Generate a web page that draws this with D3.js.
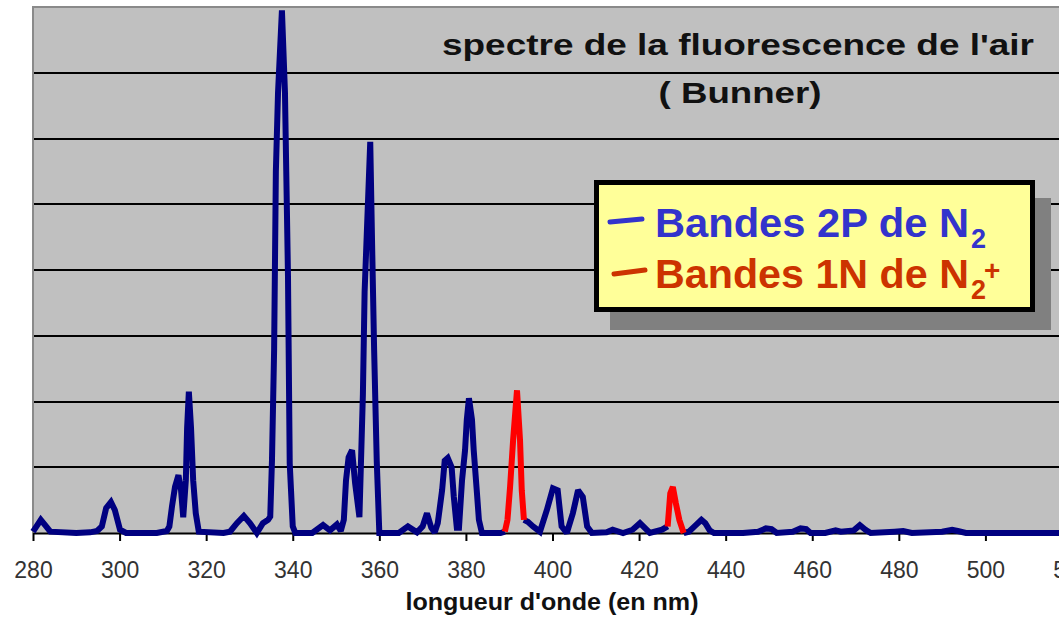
<!DOCTYPE html>
<html>
<head>
<meta charset="utf-8">
<script src="https://cdn.jsdelivr.net/npm/d3@7/dist/d3.min.js"></script>
<style>
  html, body { margin: 0; padding: 0; background: #ffffff; }
  svg { display: block; }
</style>
</head>
<body>
<svg id="chart" width="1059" height="617"></svg>
<script>
// Spectre de fluorescence de l'air (Bunner) — intensité relative vs longueur d'onde (nm)

// Bandes du second système positif de N2 (null = interruption de la courbe)
const bandes2P = [
  [280.0, 0.02], [281.0, 0.12], [281.8, 0.20], [282.8, 0.12], [284.0, 0.02],
  [290.0, 0.00], [293.2, 0.01], [294.8, 0.03], [295.9, 0.10], [296.9, 0.38],
  [298.0, 0.47], [298.9, 0.35], [300.1, 0.05], [301.5, 0.00], [308.6, 0.00],
  [310.9, 0.03], [311.5, 0.10], [312.1, 0.40], [312.8, 0.70], [313.6, 0.88],
  [314.2, 0.65], [314.7, 0.24], [315.3, 0.80], [315.6, 1.60], [316.0, 2.15],
  [316.5, 1.60], [317.0, 0.80], [317.6, 0.30], [318.3, 0.02], [324.0, 0.00],
  [325.5, 0.02], [327.1, 0.15], [328.7, 0.26], [330.1, 0.15], [331.7, 0.00],
  [333.1, 0.15], [334.3, 0.20], [334.8, 0.25], [335.2, 1.10], [335.7, 2.80],
  [336.1, 5.50], [336.6, 6.70], [337.5, 7.95], [338.2, 6.70], [338.5, 5.50],
  [338.9, 3.90], [339.3, 1.06], [340.0, 0.10], [340.6, 0.00], [344.5, 0.00],
  [347.0, 0.12], [348.6, 0.04], [350.2, 0.13], [351.1, 0.03], [351.8, 0.20],
  [352.3, 0.80], [352.9, 1.15], [353.7, 1.26], [354.4, 0.76], [355.4, 0.24],
  [356.2, 2.10], [356.6, 3.67], [357.9, 5.95], [358.3, 4.49], [358.8, 2.78],
  [359.4, 1.10], [360.0, 0.00], [364.5, 0.00], [366.6, 0.10], [368.7, 0.01],
  [370.0, 0.10], [371.0, 0.30], [372.0, 0.08], [372.8, 0.01], [373.5, 0.15],
  [374.5, 0.65], [375.1, 1.10], [375.8, 1.14], [376.7, 1.00], [377.2, 0.55],
  [377.9, 0.08], [378.4, 0.08], [379.1, 0.80], [379.8, 1.26], [380.2, 1.72],
  [380.7, 2.05], [381.4, 1.72], [381.8, 1.26], [382.5, 0.65], [383.0, 0.20],
  [383.7, 0.00], [388.0, 0.00], [389.0, 0.02],
  [391.0, null],
  [393.4, 0.20], [394.3, 0.17], [395.5, 0.10], [397.1, 0.02], [398.7, 0.35],
  [400.1, 0.68], [401.2, 0.65], [402.1, 0.10], [403.3, 0.00], [404.7, 0.30],
  [405.9, 0.65], [407.0, 0.55], [408.0, 0.10], [409.1, 0.00], [412.5, 0.01],
  [413.9, 0.05], [416.3, 0.00], [418.5, 0.05], [420.2, 0.15], [422.5, 0.00],
  [425.3, 0.05], [426.6, 0.10],
  [428.5, null],
  [430.3, 0.00], [431.5, 0.02], [432.8, 0.10], [434.4, 0.20], [435.3, 0.15],
  [436.3, 0.04], [437.3, 0.00], [444.0, 0.00], [447.5, 0.02], [449.3, 0.07],
  [450.6, 0.06], [451.8, 0.00], [455.5, 0.02], [457.3, 0.07], [458.6, 0.06],
  [459.6, 0.00], [463.0, 0.00], [465.4, 0.04], [466.6, 0.02], [469.6, 0.04],
  [471.0, 0.12], [472.3, 0.05], [473.5, 0.00], [479.0, 0.02], [481.0, 0.03],
  [483.0, 0.00], [490.0, 0.02], [492.3, 0.05], [493.6, 0.03], [495.5, 0.00],
  [505.0, 0.00], [530.0, 0.00]
];

// Bandes du premier système négatif de N2+
const bandes1N = [
  [389.0, 0.02], [389.6, 0.20], [390.2, 0.70], [390.9, 1.41], [391.8, 2.17],
  [392.5, 1.41], [392.9, 0.65], [393.4, 0.20],
  [410.0, null],
  [426.6, 0.10], [427.2, 0.60], [427.8, 0.70], [428.5, 0.45], [429.3, 0.20],
  [430.3, 0.00]
];

// Graduations
const xTicks = [280, 300, 320, 340, 360, 380, 400, 420, 440, 460, 480, 500, 520];
const gridLevels = [1, 2, 3, 4, 5, 6, 7, 8];

const titre = "spectre de la fluorescence de l'air";
const sousTitre = "( Bunner)";
const titreAxeX = "longueur d'onde (en nm)";
const legende = [
  { texte: "Bandes 2P de N", indice: "2", exposant: "", couleur: "#3333cc" },
  { texte: "Bandes 1N de N", indice: "2", exposant: "+", couleur: "#cc3300" }
];

const svg = d3.select("#chart");
const plot = { left: 33, top: 7, right: 1100, bottom: 533 };

const x = d3.scaleLinear().domain([280, 520]).range([33, 1072]);
const y = d3.scaleLinear().domain([0, 8]).range([plot.bottom, plot.top]);

// Zone de tracé grise
svg.append("rect")
  .attr("x", plot.left).attr("y", plot.top)
  .attr("width", plot.right - plot.left).attr("height", plot.bottom - plot.top)
  .attr("fill", "#c0c0c0");

// Quadrillage horizontal
svg.append("g").selectAll("line")
  .data(gridLevels.slice(0, -1))
  .join("line")
  .attr("x1", plot.left).attr("x2", plot.right)
  .attr("y1", d => Math.round(y(d))).attr("y2", d => Math.round(y(d)))
  .attr("stroke", "#000").attr("stroke-width", 2);

// Bords gris de la zone de tracé
svg.append("path")
  .attr("d", `M${plot.left},${plot.bottom} V${plot.top} H${plot.right}`)
  .attr("fill", "none").attr("stroke", "#8a8a8a").attr("stroke-width", 2);

// Axe des abscisses
const axeX = svg.append("g")
  .attr("transform", `translate(0,${plot.bottom})`)
  .call(d3.axisBottom(x).tickValues(xTicks).tickSize(8).tickPadding(21).tickSizeOuter(0));
axeX.select(".domain").attr("stroke", "#000").attr("stroke-width", 2);
axeX.selectAll(".tick line").attr("stroke", "#000").attr("stroke-width", 2);
axeX.selectAll(".tick text")
  .attr("fill", "#333")
  .style("font-family", "'Liberation Sans', Arial, sans-serif")
  .style("font-size", "23px");

// Courbes du spectre
const ligne = d3.line()
  .defined(d => d[1] != null)
  .x(d => x(d[0]))
  .y(d => y(d[1]));

svg.append("path")
  .datum(bandes2P)
  .attr("d", ligne)
  .attr("fill", "none")
  .attr("stroke", "#000080")
  .attr("stroke-width", 6)
  .attr("stroke-linejoin", "miter")
  .attr("stroke-miterlimit", 2);

svg.append("path")
  .datum(bandes1N)
  .attr("d", ligne)
  .attr("fill", "none")
  .attr("stroke", "#ff0000")
  .attr("stroke-width", 6)
  .attr("stroke-linejoin", "miter")
  .attr("stroke-miterlimit", 2);

// Titre
const police = "'Liberation Sans', Arial, sans-serif";
svg.append("text")
  .attr("x", 738).attr("y", 55)
  .attr("text-anchor", "middle")
  .attr("textLength", 592).attr("lengthAdjust", "spacingAndGlyphs")
  .style("font-family", police).style("font-weight", "bold").style("font-size", "30px")
  .attr("fill", "#111")
  .text(titre);
svg.append("text")
  .attr("x", 740).attr("y", 103)
  .attr("text-anchor", "middle")
  .attr("textLength", 163).attr("lengthAdjust", "spacingAndGlyphs")
  .style("font-family", police).style("font-weight", "bold").style("font-size", "30px")
  .attr("fill", "#111")
  .text(sousTitre);

// Titre de l'axe
svg.append("text")
  .attr("x", 552).attr("y", 610)
  .attr("text-anchor", "middle")
  .attr("textLength", 293).attr("lengthAdjust", "spacingAndGlyphs")
  .style("font-family", police).style("font-weight", "bold").style("font-size", "24px")
  .attr("fill", "#111")
  .text(titreAxeX);

// Légende encadrée avec ombre portée
const leg = { x: 594, y: 180, w: 441, h: 132 };
svg.append("rect")
  .attr("x", leg.x + 16).attr("y", leg.y + 18)
  .attr("width", leg.w).attr("height", leg.h)
  .attr("fill", "#808080");
svg.append("rect")
  .attr("x", leg.x + 2.5).attr("y", leg.y + 2.5)
  .attr("width", leg.w - 5).attr("height", leg.h - 5)
  .attr("fill", "#ffff99").attr("stroke", "#000").attr("stroke-width", 5);

const lignesLegende = svg.append("g").selectAll("g")
  .data(legende)
  .join("g")
  .attr("transform", (d, i) => `translate(0,${i * 51})`);

lignesLegende.append("line")
  .attr("x1", (d, i) => 610 + i * 4).attr("x2", (d, i) => 642 + i * 3)
  .attr("y1", (d, i) => 222 + i * 1).attr("y2", 219)
  .attr("stroke", d => d.couleur).attr("stroke-width", 5).attr("stroke-linecap", "round");

lignesLegende.append("text")
  .attr("x", 655).attr("y", 237)
  .attr("textLength", 314).attr("lengthAdjust", "spacingAndGlyphs")
  .style("font-family", police).style("font-weight", "bold").style("font-size", "41px")
  .attr("fill", d => d.couleur)
  .text(d => d.texte);

lignesLegende.append("text")
  .attr("x", 971).attr("y", 248)
  .style("font-family", police).style("font-weight", "bold").style("font-size", "27px")
  .attr("fill", d => d.couleur)
  .text(d => d.indice);

lignesLegende.append("text")
  .attr("x", 984).attr("y", 229)
  .style("font-family", police).style("font-weight", "bold").style("font-size", "28px")
  .attr("fill", d => d.couleur)
  .text(d => d.exposant);
</script>
</body>
</html>
